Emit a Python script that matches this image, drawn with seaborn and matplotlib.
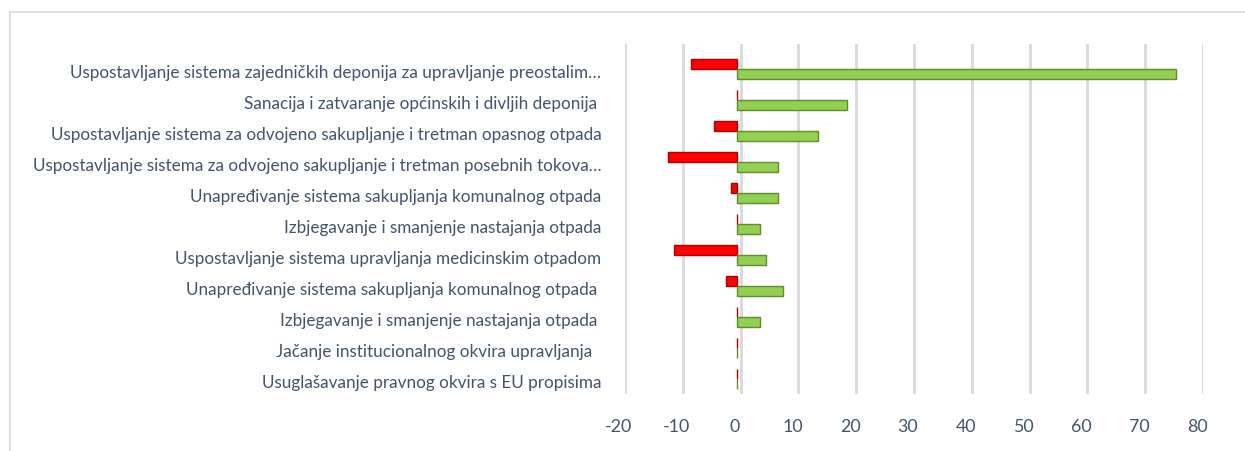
import matplotlib
matplotlib.use("Agg")
import matplotlib.pyplot as plt
import matplotlib.transforms as mtransforms
from matplotlib.patches import Rectangle
import seaborn as sns
import pandas as pd

categories = [
    "Uspostavljanje sistema zajedničkih deponija za upravljanje preostalim…",
    "Sanacija i zatvaranje općinskih i divljih deponija ",
    "Uspostavljanje sistema za odvojeno sakupljanje i tretman opasnog otpada",
    "Uspostavljanje sistema za odvojeno sakupljanje i tretman posebnih tokova…",
    "Unapređivanje sistema sakupljanja komunalnog otpada",
    "Izbjegavanje i smanjenje nastajanja otpada",
    "Uspostavljanje sistema upravljanja medicinskim otpadom",
    "Unapređivanje sistema sakupljanja komunalnog otpada ",
    "Izbjegavanje i smanjenje nastajanja otpada ",
    "Jačanje institucionalnog okvira upravljanja  ",
    "Usuglašavanje pravnog okvira s EU propisima",
]
negative_values = [-8, 0, -4, -12, -1, 0, -11, -2, 0, 0, 0]
positive_values = [76, 19, 14, 7, 7, 4, 5, 8, 4, 0, 0]
series_names = ["Negativno", "Pozitivno"]
x_ticks = [-20, -10, 0, 10, 20, 30, 40, 50, 60, 70, 80]

rows = []
for c, n, p in zip(categories, negative_values, positive_values):
    rows.append({"kategorija": c, "serija": series_names[0], "vrijednost": n})
    rows.append({"kategorija": c, "serija": series_names[1], "vrijednost": p})
df = pd.DataFrame(rows)

sns.set_theme(style="white")
plt.rcParams["font.family"] = ["Lato", "DejaVu Sans"]

W, H = 1245, 452
fig = plt.figure(figsize=(W / 100, H / 100), dpi=100)
ax = fig.add_axes([625 / W, 1 - 395 / H, (1203 - 625) / W, (395 - 45) / H])

palette = {series_names[0]: "#FF0000", series_names[1]: "#92D050"}
sns.barplot(data=df, y="kategorija", x="vrijednost", hue="serija",
            order=categories, hue_order=series_names, palette=palette,
            orient="h", width=0.66, dodge=True, ax=ax, legend=False,
            saturation=1, linewidth=0)

ax.set_xlim(-20, 80)
ax.set_ylim(10.42, -0.87)

edge_cols = {0: "#B00000", 1: "#5E8C2E"}
bar_shift = mtransforms.ScaledTranslation(-3.5 / 100, 2 / 100, fig.dpi_scale_trans)
for i, cont in enumerate(ax.containers):
    for bar in cont:
        bar.set_edgecolor(edge_cols[i])
        bar.set_linewidth(1.0)
        bar.set_transform(ax.transData + bar_shift)

ax.set_xticks(x_ticks)
ax.set_xticklabels([str(t) for t in x_ticks])
ax.xaxis.grid(True, color="#D9D9D9", linewidth=2)
ax.set_axisbelow(True)
for s in ax.spines.values():
    s.set_visible(False)
ax.set_xlabel("")
ax.set_ylabel("")
ax.tick_params(axis="both", length=0)
ax.tick_params(axis="x", pad=17, labelsize=12.8, labelcolor="#44546A")
ax.tick_params(axis="y", pad=17, labelsize=10.5, labelcolor="#44546A")

offset = mtransforms.ScaledTranslation(-6 / 100, 0, fig.dpi_scale_trans)
for lab in ax.get_xticklabels():
    lab.set_transform(lab.get_transform() + offset)

# fit y label size to target width
fig.canvas.draw()
r = fig.canvas.get_renderer()
ref = ax.get_yticklabels()[2]
w = ref.get_window_extent(r).width
target = 556
newsize = 10.5 * target / w
for lab in ax.get_yticklabels():
    lab.set_fontsize(newsize)

fig.patches.append(Rectangle((10 / W, -0.1), 1.2, 1.1 - 13 / H, transform=fig.transFigure,
                             fill=False, edgecolor="#D9D9D9", linewidth=1.2))

fig.savefig("out.png", dpi=100, facecolor="white")
